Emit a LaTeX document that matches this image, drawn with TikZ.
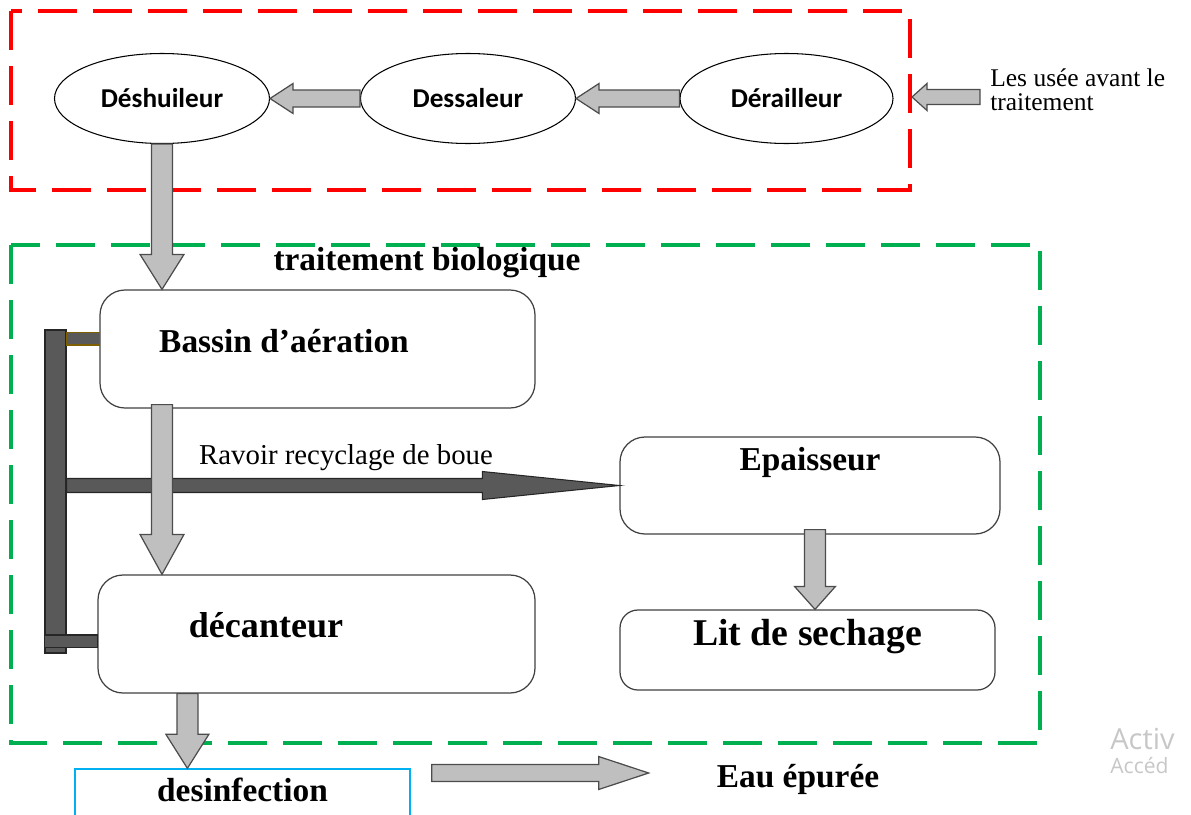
\documentclass[tikz,border=0pt]{standalone}
\usepackage{fontspec}
\setmainfont{Liberation Serif}
\newfontfamily\calibfont{Carlito}
\newfontfamily\winfont{Open Sans}
\usetikzlibrary{shapes.geometric,positioning,calc}

\definecolor{zonered}{RGB}{255,0,0}
\definecolor{zonegreen}{RGB}{0,176,80}
\definecolor{flowgray}{RGB}{191,191,191}
\definecolor{pipegray}{RGB}{89,89,89}
\definecolor{skyblue}{RGB}{0,176,240}
\definecolor{stubolive}{RGB}{127,96,0}

\tikzset{
  zone/.style={line width=2.3pt, dash pattern=on 0.78cm off 0.32cm},
  stage/.style={ellipse, draw, line width=0.6pt, minimum width=4.3cm, minimum height=1.8cm,
    font=\calibfont\bfseries\fontsize{15.5}{18}\selectfont},
  basin/.style={rectangle, rounded corners=0.5cm, draw=black!75, line width=0.7pt},
  boxtext/.style={font=\bfseries\fontsize{19}{22}\selectfont},
  flow/.style={fill=flowgray, draw=black!70, line width=0.7pt},
  recycle/.style={fill=pipegray, draw=black!85, line width=0.6pt},
}

% block arrow: [style]{from}{to}{half shaft}{half head}{head length}
\newcommand{\fatarrow}[6][flow]{%
  \coordinate (fa-a) at (#2);
  \coordinate (fa-b) at (#3);
  \coordinate (fa-c) at ($(fa-b)!#6!(fa-a)$);
  \draw[#1] ($(fa-a)!#4!90:(fa-b)$) -- ($(fa-c)!#4!90:(fa-b)$) -- ($(fa-c)!#5!90:(fa-b)$)
    -- (fa-b) -- ($(fa-c)!#5!-90:(fa-b)$) -- ($(fa-c)!#4!-90:(fa-b)$) -- ($(fa-a)!#4!-90:(fa-b)$) -- cycle;
}

\begin{document}
\begin{tikzpicture}
    \useasboundingbox (0,0) rectangle (23.82,-16.28);

    % pretraitement
    \draw[zone, draw=zonered] (0.22,-0.22) rectangle (18.2,-3.8);
    \node[stage] (desh) at (3.24,-1.97) {Déshuileur};
    \node[stage] (dess) at (9.36,-1.97) {Dessaleur};
    \node[stage, minimum width=4.26cm] (derail) at (15.73,-1.97) {Dérailleur};
    \node[anchor=west, align=left, inner sep=0pt, font=\fontsize{14.5}{13.5}\selectfont] (usees) at (19.8,-1.8) {Les usée avant le\\traitement};
    \coordinate (inlet) at (18.24,-1.94);

    % traitement biologique
    \draw[zone, draw=zonegreen] (0.22,-4.9) rectangle (20.8,-14.86);
    \node[boxtext] (biolab) at (8.54,-5.26) {traitement biologique};
    \node[basin, minimum width=8.7cm, minimum height=2.36cm,
      label={[boxtext, xshift=-0.67cm, yshift=0.16cm]center:Bassin d’aération}] (bassin) at (6.35,-6.98) {};
    \node[basin, minimum width=8.74cm, minimum height=2.36cm,
      label={[boxtext, font=\bfseries\fontsize{20.5}{22}\selectfont, xshift=-1.01cm, yshift=0.18cm]center:décanteur}] (deca) at (6.33,-12.68) {};
    \node[basin, minimum width=7.6cm, minimum height=1.94cm,
      label={[boxtext, yshift=0.47cm]center:Epaisseur}] (epai) at (16.2,-9.71) {};
    \node[basin, rounded corners=0.36cm, minimum width=7.5cm, minimum height=1.6cm,
      label={[boxtext, font=\bfseries\fontsize{21.5}{24}\selectfont, yshift=0.26cm]center:Lit de sechage}] (lit) at (16.15,-13.0) {};
    \node[font=\fontsize{16.4}{18}\selectfont] (ravoir) at (6.92,-9.16) {Ravoir recyclage de boue};

    % recyclage des boues
    \node[recycle, minimum width=0.42cm, minimum height=6.46cm, inner sep=0pt] (pipe) at (1.11,-9.83) {};
    \draw[recycle, draw=stubolive] ($(pipe.north east)+(0,-0.06)$) rectangle ($(bassin.west)+(0,0.08)$);
    \draw[recycle] ($(pipe.south west)+(0,0.12)$) rectangle ($(deca.west)+(0,-0.02)$);
    \fatarrow[recycle]{pipe.east |- epai.west}{epai.west}{0.14cm}{0.28cm}{2.74cm}

    % sortie
    \node[draw=skyblue, line width=0.8pt, minimum width=6.7cm, minimum height=1.4cm,
      label={[boxtext, yshift=0.28cm]center:desinfection}] (desinf) at (4.85,-16.08) {};
    \node[boxtext] (eau) at (15.96,-15.58) {Eau épurée};

    % fleches
    \fatarrow{$(usees.west)+(-0.2,-0.14)$}{inlet}{0.15cm}{0.27cm}{0.3cm}
    \fatarrow{derail.west}{dess.east}{0.17cm}{0.3cm}{0.46cm}
    \fatarrow{dess.west}{desh.east}{0.17cm}{0.3cm}{0.46cm}
    \fatarrow{desh.south}{desh.south |- bassin.north}{0.21cm}{0.44cm}{0.7cm}
    \coordinate (aerout) at ($(desh.south |- bassin.south)+(0,0.08)$);
    \fatarrow{aerout}{desh.south |- deca.north}{0.21cm}{0.44cm}{0.8cm}
    \coordinate (drain) at ($(deca.south west)+(1.8,0)$);
    \fatarrow{drain}{drain |- desinf.north}{0.21cm}{0.43cm}{0.68cm}
    \coordinate (thick) at ($(epai.south)+(0.1,0.1)$);
    \fatarrow{thick}{thick |- lit.north}{0.21cm}{0.41cm}{0.46cm}
    \fatarrow{$(eau.west)+(-5.58,0.12)$}{$(eau.west)+(-1.24,0.12)$}{0.17cm}{0.33cm}{1.0cm}

    \node[anchor=west, inner sep=0pt, text=black!22, font=\winfont\fontsize{16.5}{18}\selectfont] (wmtop) at (22.2,-14.78) {Activ};
    \node[anchor=west, inner sep=0pt, text=black!22, font=\winfont\fontsize{12}{14}\selectfont] (wmbot) at (22.2,-15.32) {Accéd};
\end{tikzpicture}
\end{document}
